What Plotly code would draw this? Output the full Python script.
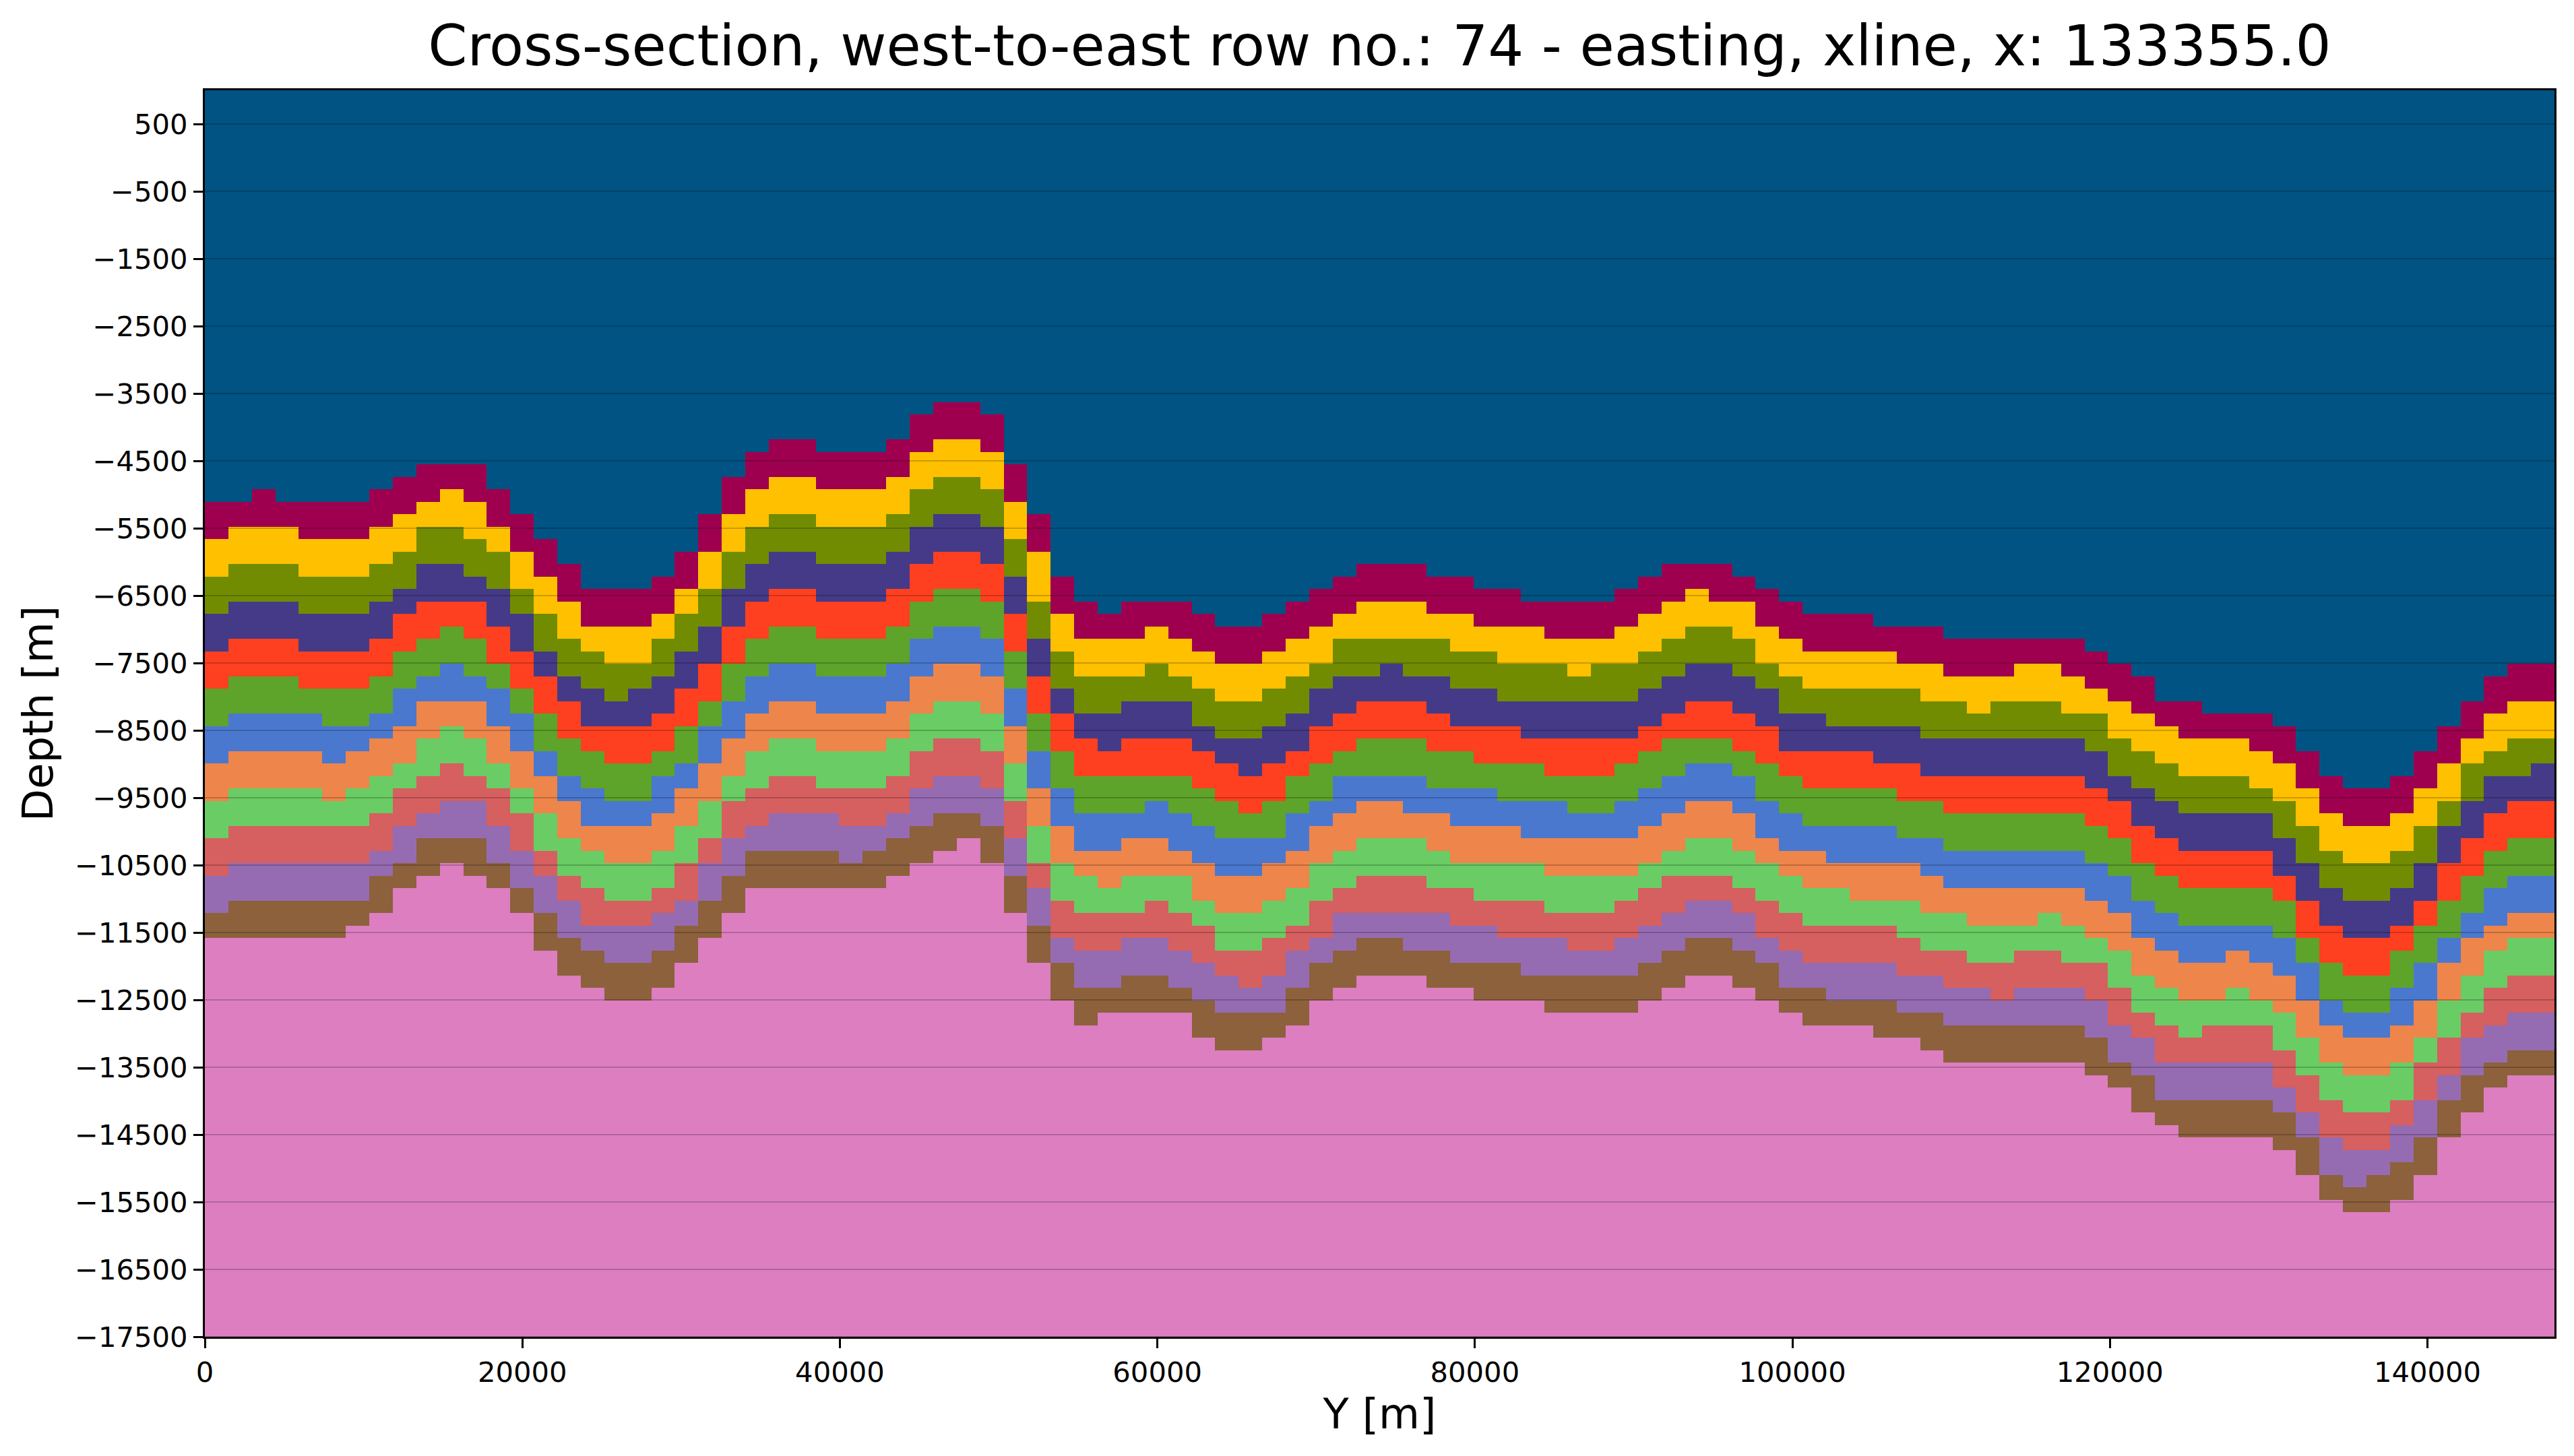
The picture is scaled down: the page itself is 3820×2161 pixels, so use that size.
import plotly.graph_objects as go

# Model grid: 100 columns of 1480 m, 100 rows of 185 m, counted from the top at +1000 m
cell_x = 1480
cell_y = 185
top_depth = 1000
n_rows = 100

# Top of every layer in each column, as a row index
layer_crimson = [33,33,32,33,33,33,33,32,31,30,30,30,32,34,36,38,40,40,40,39,37,34,31,29,28,28,29,29,29,28,26,25,25,26,30,34,39,41,42,41,41,41,42,43,43,42,41,40,39,38,38,38,39,39,40,40,41,41,41,41,40,39,38,38,38,39,40,41,42,42,42,43,43,43,44,44,44,44,44,44,45,46,47,49,49,50,50,50,51,53,55,56,56,55,53,51,49,47,46,46]
layer_yellow = [36,35,35,35,36,36,36,35,34,33,32,33,35,37,39,41,43,43,43,42,40,37,34,32,31,31,32,32,32,31,29,28,28,29,33,37,42,44,44,44,43,44,45,46,46,45,44,43,42,41,41,41,42,42,43,43,43,44,44,44,43,42,41,40,41,41,43,44,45,45,45,45,46,46,47,47,47,46,46,47,48,49,50,51,52,52,52,53,54,56,58,59,59,58,56,54,52,50,49,49]
layer_olive = [39,38,38,38,39,39,39,38,37,35,35,36,37,40,42,44,45,46,46,44,42,40,37,35,34,34,35,35,35,34,32,31,31,32,36,41,45,47,47,47,46,47,48,49,49,48,47,46,44,44,44,44,44,45,45,46,46,46,47,46,46,45,44,43,43,44,46,47,48,48,48,48,48,49,49,50,49,49,49,50,50,52,53,54,55,55,55,56,57,59,61,62,62,61,59,57,54,53,52,52]
layer_indigo = [42,41,41,41,42,42,42,41,40,38,38,39,40,42,45,47,48,49,48,47,45,43,40,38,37,37,38,38,38,37,35,34,34,35,39,44,48,50,50,49,49,49,51,52,52,51,50,48,47,47,46,47,47,48,48,49,49,49,49,49,49,48,47,46,46,47,48,50,50,51,51,51,51,52,52,52,52,52,52,52,53,55,56,57,58,58,58,58,60,62,64,65,65,64,62,59,57,55,55,54]
layer_vermilion = [45,44,44,44,45,45,45,44,42,41,41,41,43,45,47,49,51,51,51,50,48,46,43,41,40,40,41,41,41,40,38,37,37,38,42,47,50,52,53,52,52,52,53,54,55,54,53,51,50,49,49,49,50,51,51,51,52,52,52,52,52,51,50,49,49,50,51,53,53,53,53,54,54,55,55,55,55,55,55,55,56,57,59,60,61,61,61,61,63,65,67,68,68,67,65,62,60,58,57,57]
layer_green = [48,47,47,47,48,48,48,47,45,44,43,44,46,48,50,52,53,54,54,53,51,49,46,44,43,43,44,44,44,43,41,40,40,41,45,50,53,55,55,55,55,55,56,57,58,57,55,54,53,52,52,52,53,53,54,54,54,55,55,55,54,53,52,52,52,53,54,55,56,56,56,56,57,57,58,58,58,58,58,58,59,60,62,63,64,64,64,64,65,68,70,71,71,69,67,65,63,61,60,60]
layer_blue = [51,50,50,50,50,51,51,50,48,47,46,47,48,50,53,55,56,57,57,55,54,51,49,47,46,46,47,47,47,46,44,43,43,44,48,53,56,58,58,58,57,58,59,60,60,60,58,57,55,55,55,55,56,56,56,57,57,57,58,58,57,56,55,54,54,55,57,58,59,59,59,59,60,60,61,61,61,61,61,61,62,63,65,66,67,67,67,67,68,70,73,74,74,72,70,68,66,64,63,63]
layer_orange = [54,53,53,53,53,54,53,52,51,49,49,49,51,53,55,57,59,59,59,58,56,54,52,50,49,49,50,50,50,49,47,46,46,47,51,56,59,61,61,60,60,61,62,63,63,62,61,59,58,57,57,58,58,59,59,59,60,60,60,60,60,59,58,57,57,58,60,61,61,62,62,62,62,63,64,64,64,64,64,64,65,66,68,69,70,70,69,70,71,73,75,76,76,75,73,70,68,67,66,66]
layer_lightgreen = [57,56,56,56,56,57,56,55,54,52,51,52,54,56,58,60,61,62,62,61,59,57,55,53,52,52,53,53,53,52,50,49,49,50,54,59,62,63,64,63,63,63,65,66,66,65,64,62,61,60,60,60,61,62,62,62,62,63,63,63,63,62,61,60,60,61,62,63,64,64,65,65,65,66,66,67,67,67,66,67,68,69,71,72,73,73,72,73,74,76,78,79,79,78,76,73,71,69,68,68]
layer_rose = [60,59,59,59,59,59,59,58,56,55,54,55,56,58,61,63,64,65,65,64,62,60,57,56,55,55,56,56,56,55,53,52,52,53,57,62,65,66,66,66,65,66,67,69,69,68,67,65,64,63,63,63,64,64,65,65,65,66,66,66,65,64,63,63,63,64,65,66,67,67,67,67,68,69,69,70,70,69,69,70,70,72,74,75,76,75,75,75,77,79,81,82,82,81,78,76,74,72,71,71]
layer_purple = [63,62,62,62,62,62,62,61,59,58,57,57,59,61,63,65,67,67,67,66,65,62,60,59,58,58,58,59,59,58,56,55,55,56,60,64,68,69,69,68,68,69,70,71,72,71,69,68,66,66,66,66,66,67,67,68,68,68,69,69,68,67,66,65,65,66,68,69,70,70,70,70,71,71,72,72,73,72,72,72,73,75,76,78,78,78,78,78,80,82,84,85,85,83,81,79,76,75,74,74]
layer_brown = [66,65,65,65,65,65,65,63,62,60,60,60,62,64,66,68,69,70,70,69,67,65,63,61,61,61,61,62,61,60,59,58,58,59,63,67,70,72,72,71,71,72,73,74,74,74,72,70,69,68,68,69,69,70,70,70,71,71,71,71,71,70,69,68,68,69,70,72,72,73,73,73,74,74,75,75,75,75,75,75,76,78,79,81,81,81,81,81,82,84,87,88,87,86,84,81,79,78,77,77]
layer_pink = [68,68,68,68,68,68,67,66,64,63,62,63,64,66,69,71,72,73,73,72,70,68,66,64,64,64,64,64,64,63,62,61,60,62,66,70,73,75,74,74,74,74,76,77,77,76,75,73,72,71,71,71,72,72,73,73,73,74,74,74,74,73,72,71,71,72,73,74,75,75,75,76,76,77,78,78,78,78,78,78,79,80,82,83,84,84,84,84,85,87,89,90,90,89,87,84,82,80,79,79]

layer_tops = [layer_crimson, layer_yellow, layer_olive, layer_indigo, layer_vermilion, layer_green, layer_blue,
              layer_orange, layer_lightgreen, layer_rose, layer_purple, layer_brown, layer_pink]

layer_colors = ["#005382", "#9e004f", "#ffc000", "#718c00", "#443a88", "#ff4020", "#5ea32a",
                "#4a78cf", "#ee854a", "#6acc64", "#d65f5f", "#956cb2", "#8c613c", "#dc7ec0"]

x_ticks = [0, 20000, 40000, 60000, 80000, 100000, 120000, 140000]
y_ticks = [500, -500, -1500, -2500, -3500, -4500, -5500, -6500, -7500, -8500, -9500,
           -10500, -11500, -12500, -13500, -14500, -15500, -16500, -17500]
y_tick_text = ["500", "−500", "−1500", "−2500", "−3500", "−4500", "−5500", "−6500", "−7500", "−8500", "−9500",
               "−10500", "−11500", "−12500", "−13500", "−14500", "−15500", "−16500", "−17500"]

n_cols = len(layer_crimson)
x_edges = [cell_x * i for i in range(n_cols + 1)]
y_edges = [top_depth - cell_y * k for k in range(n_rows + 1)]
z = [[sum(1 for tops in layer_tops if tops[c] <= r) for c in range(n_cols)] for r in range(n_rows)]

n_layers = len(layer_colors)
scale = []
for i, col in enumerate(layer_colors):
    scale += [[i / n_layers, col], [(i + 1) / n_layers, col]]

fig = go.Figure()
fig.add_trace(go.Heatmap(x=x_edges, y=y_edges, z=z, colorscale=scale, zmin=-0.5, zmax=n_layers - 0.5,
                         showscale=False, hoverinfo="skip", zsmooth=False))

grid_x, grid_y = [], []
for v in y_ticks:
    grid_x += [0, x_edges[-1], None]
    grid_y += [v, v, None]
fig.add_trace(go.Scatter(x=grid_x, y=grid_y, mode="lines", line=dict(color="rgba(0,0,0,0.2)", width=2.2),
                         hoverinfo="skip", showlegend=False))

W, H = 3820, 2161
L, R, T, B = 303.5, 3791, 134, 1984
axis_common = dict(showline=True, linecolor="black", linewidth=3.3, mirror=True, ticks="outside", ticklen=14,
                   tickwidth=3.3, tickcolor="black", showgrid=False, zeroline=False,
                   tickfont=dict(family="DejaVu Sans", size=41.7, color="black"))
fig.update_layout(
    width=W, height=H, autosize=False, paper_bgcolor="white", plot_bgcolor="white", showlegend=False,
    margin=dict(l=L, r=W - R, t=T, b=H - B, pad=0),
    title=dict(text="Cross-section, west-to-east row no.: 74 - easting, xline, x: 133355.0",
               font=dict(family="DejaVu Sans", size=83.4, color="black"),
               x=0.5, xanchor="center", xref="paper", y=1 - 68 / H, yanchor="middle", yref="container"),
    xaxis=dict(range=[0, 148000], tickvals=x_ticks, ticktext=[str(v) for v in x_ticks],
               title=dict(text="Y [m]", font=dict(family="DejaVu Sans", size=62.6, color="black"), standoff=16), **axis_common),
    yaxis=dict(range=[-17500, 1000], tickvals=y_ticks, ticktext=y_tick_text,
               title=dict(text="Depth [m]", font=dict(family="DejaVu Sans", size=62.6, color="black"), standoff=13), **axis_common),
)
fig.write_html("out.html", config={"displayModeBar": False},
               post_script="document.body.style.margin='0';")
